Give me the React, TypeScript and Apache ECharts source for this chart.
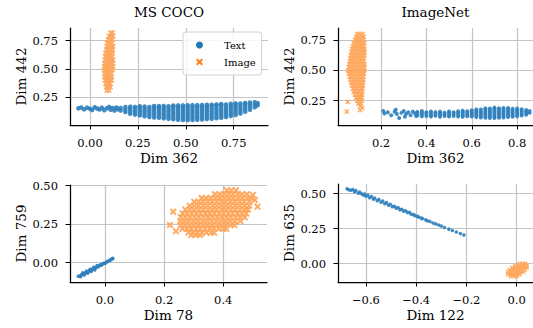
import React, { useEffect, useRef } from 'react';
import * as echarts from 'echarts';

const FONT = 'DejaVu Serif';
const BLUE = '#2f7fbd';
const ORANGE = '#ffa75c';
const BLUE_LEGEND = '#1f77b4';
const ORANGE_LEGEND = '#ff7f0e';
const XPATH = 'path://M0,2 L2,0 L5,3 L8,0 L10,2 L7,5 L10,8 L8,10 L5,7 L2,10 L0,8 L3,5 Z';

const panelTitles = ['MS COCO', 'ImageNet'];
const xNames = ['Dim 362', 'Dim 362', 'Dim 78', 'Dim 122'];
const yNames = ['Dim 442', 'Dim 442', 'Dim 759', 'Dim 635'];
const xTicks = [[0, 0.25, 0.5, 0.75], [0.2, 0.4, 0.6, 0.8], [0, 0.2, 0.4], [-0.6, -0.4, -0.2, 0]];
const yTicks = [[0.25, 0.5, 0.75], [0.25, 0.5, 0.75], [0, 0.25, 0.5], [0, 0.25, 0.5]];
const xDigits = [2, 1, 1, 1];
const yDigits = [2, 2, 2, 2];
const xIntervals = [0.25, 0.2, 0.2, 0.2];
const yIntervals = [0.25, 0.25, 0.25, 0.25];
const xRanges = [[-0.104, 0.929], [0.0103, 0.87], [-0.118, 0.548], [-0.711, 0.065]];
const yRanges = [[0.005, 0.862], [0.05, 0.849], [-0.125, 0.5045], [-0.131, 0.569]];

// MS COCO, text embeddings: sparse left tail
const cocoTextTail = [
  [-0.06, 0.152], [-0.045, 0.16], [-0.03, 0.143], [-0.015, 0.158], [0.0, 0.148], [0.012, 0.138],
  [0.025, 0.162], [0.038, 0.15], [0.05, 0.142], [0.062, 0.158], [0.075, 0.135], [0.088, 0.152],
  [0.1, 0.165], [0.108, 0.14], [0.118, 0.155], [0.128, 0.132], [0.138, 0.16], [0.145, 0.145],
];
// MS COCO, text embeddings: dense band, columns [x, ys]
const cocoTextBand: [number, number[]][] = [
  [0.16, [0.133, 0.155]],
  [0.185, [0.12, 0.142, 0.163]],
  [0.21, [0.104, 0.126, 0.148, 0.167]],
  [0.235, [0.097, 0.119, 0.141, 0.163]],
  [0.26, [0.09, 0.112, 0.134, 0.156, 0.17]],
  [0.285, [0.082, 0.104, 0.126, 0.148, 0.168]],
  [0.31, [0.076, 0.098, 0.12, 0.142, 0.164]],
  [0.335, [0.072, 0.094, 0.116, 0.138, 0.16, 0.172]],
  [0.36, [0.068, 0.09, 0.112, 0.134, 0.156, 0.173]],
  [0.385, [0.064, 0.086, 0.108, 0.13, 0.152, 0.172]],
  [0.41, [0.06, 0.082, 0.104, 0.126, 0.148, 0.17]],
  [0.435, [0.056, 0.078, 0.1, 0.122, 0.144, 0.166, 0.177]],
  [0.46, [0.052, 0.074, 0.096, 0.118, 0.14, 0.162, 0.178]],
  [0.485, [0.05, 0.072, 0.094, 0.116, 0.138, 0.16, 0.178]],
  [0.51, [0.048, 0.07, 0.092, 0.114, 0.136, 0.158, 0.179]],
  [0.535, [0.05, 0.072, 0.094, 0.116, 0.138, 0.16, 0.18]],
  [0.56, [0.052, 0.074, 0.096, 0.118, 0.14, 0.162, 0.18]],
  [0.585, [0.054, 0.076, 0.098, 0.12, 0.142, 0.164, 0.181]],
  [0.61, [0.057, 0.079, 0.101, 0.123, 0.145, 0.167, 0.183]],
  [0.635, [0.06, 0.082, 0.104, 0.126, 0.148, 0.17, 0.185]],
  [0.66, [0.065, 0.087, 0.109, 0.131, 0.153, 0.175, 0.187]],
  [0.685, [0.07, 0.092, 0.114, 0.136, 0.158, 0.18, 0.19]],
  [0.71, [0.076, 0.098, 0.12, 0.142, 0.164, 0.186]],
  [0.735, [0.084, 0.106, 0.128, 0.15, 0.172, 0.193]],
  [0.76, [0.094, 0.116, 0.138, 0.16, 0.182, 0.196]],
  [0.785, [0.107, 0.129, 0.151, 0.173, 0.195]],
  [0.81, [0.122, 0.144, 0.166, 0.188, 0.2]],
  [0.835, [0.14, 0.162, 0.184, 0.203]],
  [0.86, [0.162, 0.184, 0.205]],
  [0.875, [0.18, 0.198]],
];
// MS COCO, image embeddings: rows [y, xs]
const cocoImageRows: [number, number[]][] = [
  [0.82, [0.108, 0.118]],
  [0.79, [0.1, 0.112, 0.12]],
  [0.76, [0.095, 0.106, 0.117]],
  [0.73, [0.09, 0.102, 0.114]],
  [0.7, [0.088, 0.1, 0.112, 0.12]],
  [0.67, [0.085, 0.097, 0.109, 0.119]],
  [0.64, [0.082, 0.094, 0.106, 0.118]],
  [0.61, [0.08, 0.092, 0.104, 0.116]],
  [0.58, [0.078, 0.09, 0.102, 0.114, 0.12]],
  [0.55, [0.076, 0.088, 0.1, 0.112, 0.12]],
  [0.52, [0.075, 0.087, 0.099, 0.111, 0.12]],
  [0.49, [0.074, 0.086, 0.098, 0.11, 0.118]],
  [0.46, [0.076, 0.088, 0.1, 0.112]],
  [0.43, [0.077, 0.089, 0.101, 0.113]],
  [0.4, [0.079, 0.091, 0.103, 0.113]],
  [0.37, [0.082, 0.094, 0.106]],
  [0.34, [0.085, 0.097, 0.107]],
  [0.31, [0.088, 0.1]],
];

// ImageNet, text embeddings
const inetTextTail = [
  [0.21, 0.165], [0.215, 0.145], [0.23, 0.155], [0.245, 0.13], [0.26, 0.16], [0.27, 0.14],
  [0.28, 0.108], [0.29, 0.15], [0.3, 0.165], [0.31, 0.14], [0.32, 0.155], [0.33, 0.13],
  [0.34, 0.16], [0.35, 0.145], [0.355, 0.125], [0.265, 0.175], [0.305, 0.118],
];
const inetTextBand: [number, number[]][] = [
  [0.36, [0.128, 0.145, 0.158]],
  [0.38, [0.122, 0.138, 0.152, 0.165]],
  [0.4, [0.125, 0.14, 0.155]],
  [0.42, [0.12, 0.133, 0.148, 0.162]],
  [0.44, [0.126, 0.141, 0.156]],
  [0.46, [0.118, 0.132, 0.146, 0.16]],
  [0.48, [0.124, 0.138, 0.152]],
  [0.5, [0.12, 0.134, 0.148, 0.162]],
  [0.52, [0.125, 0.14, 0.155]],
  [0.54, [0.12, 0.134, 0.148, 0.163]],
  [0.56, [0.118, 0.13, 0.143, 0.156, 0.168]],
  [0.58, [0.122, 0.136, 0.15, 0.164]],
  [0.6, [0.12, 0.132, 0.145, 0.158, 0.172]],
  [0.62, [0.115, 0.128, 0.141, 0.154, 0.167, 0.178]],
  [0.64, [0.112, 0.125, 0.138, 0.151, 0.164, 0.177]],
  [0.66, [0.11, 0.123, 0.136, 0.149, 0.162, 0.175, 0.187]],
  [0.68, [0.108, 0.121, 0.134, 0.147, 0.16, 0.173, 0.186]],
  [0.7, [0.107, 0.12, 0.133, 0.146, 0.159, 0.172, 0.185, 0.193]],
  [0.72, [0.11, 0.123, 0.136, 0.149, 0.162, 0.175, 0.188]],
  [0.74, [0.112, 0.125, 0.138, 0.151, 0.164, 0.177, 0.19]],
  [0.76, [0.115, 0.128, 0.141, 0.154, 0.167, 0.18, 0.19]],
  [0.78, [0.118, 0.131, 0.144, 0.157, 0.17, 0.183]],
  [0.8, [0.122, 0.135, 0.148, 0.161, 0.174, 0.186]],
  [0.82, [0.128, 0.141, 0.154, 0.167, 0.18]],
  [0.84, [0.135, 0.148, 0.161, 0.174]],
  [0.855, [0.15, 0.165]],
];
// ImageNet, image embeddings
const inetImageRows: [number, number[]][] = [
  [0.8, [0.095, 0.107, 0.119]],
  [0.775, [0.09, 0.102, 0.114, 0.124]],
  [0.75, [0.085, 0.097, 0.109, 0.121]],
  [0.725, [0.08, 0.092, 0.104, 0.116, 0.126]],
  [0.7, [0.076, 0.088, 0.1, 0.112, 0.124]],
  [0.675, [0.072, 0.084, 0.096, 0.108, 0.12, 0.127]],
  [0.65, [0.07, 0.082, 0.094, 0.106, 0.118, 0.127]],
  [0.625, [0.067, 0.079, 0.091, 0.103, 0.115, 0.126]],
  [0.6, [0.065, 0.077, 0.089, 0.101, 0.113, 0.125]],
  [0.575, [0.063, 0.075, 0.087, 0.099, 0.111, 0.123]],
  [0.55, [0.06, 0.072, 0.084, 0.096, 0.108, 0.12, 0.127]],
  [0.525, [0.058, 0.07, 0.082, 0.094, 0.106, 0.118, 0.127]],
  [0.5, [0.055, 0.067, 0.079, 0.091, 0.103, 0.115, 0.126]],
  [0.475, [0.058, 0.07, 0.082, 0.094, 0.106, 0.118, 0.125]],
  [0.45, [0.062, 0.074, 0.086, 0.098, 0.11, 0.122]],
  [0.425, [0.065, 0.077, 0.089, 0.101, 0.113, 0.122]],
  [0.4, [0.068, 0.08, 0.092, 0.104, 0.116, 0.121]],
  [0.375, [0.072, 0.084, 0.096, 0.108, 0.119]],
  [0.35, [0.076, 0.088, 0.1, 0.112, 0.118]],
  [0.325, [0.08, 0.092, 0.104, 0.116]],
  [0.3, [0.085, 0.097, 0.109, 0.117]],
  [0.275, [0.09, 0.102, 0.114]],
  [0.25, [0.095, 0.107, 0.115]],
  [0.225, [0.1, 0.11]],
];
const inetImageOutliers = [[0.053, 0.24], [0.049, 0.16], [0.107, 0.173], [0.117, 0.19], [0.11, 0.205]];

// Dim 78 vs Dim 759
const d78Text = [
  [-0.09, -0.088], [-0.085, -0.086], [-0.08, -0.08], [-0.077, -0.074], [-0.072, -0.075],
  [-0.068, -0.069], [-0.064, -0.062], [-0.06, -0.063], [-0.056, -0.057], [-0.052, -0.05],
  [-0.048, -0.051], [-0.044, -0.045], [-0.04, -0.038], [-0.036, -0.04], [-0.032, -0.033],
  [-0.028, -0.026], [-0.024, -0.028], [-0.02, -0.021], [-0.016, -0.014], [-0.012, -0.016],
  [-0.008, -0.009], [-0.004, -0.003], [0.0, -0.005], [0.004, 0.002], [0.008, 0.008],
  [0.012, 0.01], [0.016, 0.015], [0.02, 0.02], [0.024, 0.025], [0.027, 0.028],
  [-0.082, -0.09], [-0.07, -0.08], [-0.058, -0.068], [-0.046, -0.056], [-0.034, -0.046],
  [-0.075, -0.066], [-0.062, -0.054], [-0.05, -0.042], [-0.038, -0.03], [-0.026, -0.018],
];
const d78ImageRows: [number, number[]][] = [
  [0.47, [0.412, 0.427, 0.443]],
  [0.445, [0.372, 0.388, 0.403, 0.418, 0.433, 0.449, 0.464, 0.48]],
  [0.42, [0.327, 0.342, 0.357, 0.373, 0.388, 0.404, 0.419, 0.434, 0.45, 0.465, 0.481, 0.494]],
  [0.395, [0.302, 0.317, 0.332, 0.348, 0.363, 0.379, 0.394, 0.409, 0.425, 0.44, 0.456, 0.471, 0.488]],
  [0.37, [0.287, 0.302, 0.317, 0.333, 0.348, 0.364, 0.379, 0.394, 0.41, 0.425, 0.441, 0.456, 0.472, 0.488]],
  [0.345, [0.272, 0.287, 0.302, 0.318, 0.333, 0.349, 0.364, 0.379, 0.395, 0.41, 0.426, 0.441, 0.457, 0.472, 0.484]],
  [0.32, [0.263, 0.278, 0.293, 0.309, 0.324, 0.34, 0.355, 0.37, 0.386, 0.401, 0.417, 0.432, 0.448, 0.463, 0.478]],
  [0.295, [0.257, 0.272, 0.287, 0.303, 0.318, 0.334, 0.349, 0.364, 0.38, 0.395, 0.411, 0.426, 0.442, 0.457, 0.473]],
  [0.27, [0.255, 0.27, 0.285, 0.301, 0.316, 0.332, 0.347, 0.362, 0.378, 0.393, 0.409, 0.424, 0.44, 0.458]],
  [0.245, [0.256, 0.271, 0.286, 0.302, 0.317, 0.333, 0.348, 0.363, 0.379, 0.394, 0.41, 0.425, 0.438]],
  [0.22, [0.262, 0.277, 0.292, 0.308, 0.323, 0.339, 0.354, 0.369, 0.385, 0.4, 0.41]],
  [0.195, [0.282, 0.297, 0.312, 0.328, 0.343, 0.358, 0.369]],
  [0.18, [0.292, 0.307, 0.322]],
];
const d78ImageOutliers = [[0.231, 0.331], [0.22, 0.245], [0.516, 0.364], [0.507, 0.407], [0.24, 0.205], [0.5, 0.44]];

// Dim 122 vs Dim 635
const d122Text = [
  [-0.675, 0.535], [-0.668, 0.528], [-0.66, 0.524], [-0.652, 0.53], [-0.645, 0.514], [-0.64, 0.522],
  [-0.63, 0.503], [-0.625, 0.512], [-0.618, 0.5], [-0.61, 0.49], [-0.605, 0.498], [-0.6, 0.482],
  [-0.592, 0.488], [-0.585, 0.471], [-0.578, 0.48], [-0.57, 0.46], [-0.565, 0.468], [-0.555, 0.45],
  [-0.548, 0.458], [-0.54, 0.439], [-0.533, 0.447], [-0.525, 0.428], [-0.518, 0.436], [-0.51, 0.418],
  [-0.503, 0.424], [-0.495, 0.407], [-0.487, 0.41], [-0.48, 0.397], [-0.472, 0.4], [-0.465, 0.386],
  [-0.457, 0.388], [-0.45, 0.375], [-0.442, 0.378], [-0.435, 0.365], [-0.427, 0.366], [-0.42, 0.354],
  [-0.41, 0.35], [-0.405, 0.343], [-0.395, 0.338], [-0.39, 0.333], [-0.38, 0.325], [-0.375, 0.322],
  [-0.362, 0.313], [-0.355, 0.306], [-0.345, 0.301], [-0.333, 0.29], [-0.322, 0.284], [-0.31, 0.276],
  [-0.3, 0.269], [-0.287, 0.258], [-0.27, 0.247], [-0.256, 0.237], [-0.24, 0.226], [-0.224, 0.215],
  [-0.21, 0.205],
];
const d122ImageRows: [number, number[]][] = [
  [0.0, [0.012, 0.024, 0.034]],
  [-0.015, [-0.006, 0.006, 0.018, 0.03, 0.04]],
  [-0.03, [-0.018, -0.006, 0.006, 0.018, 0.03, 0.04]],
  [-0.045, [-0.028, -0.016, -0.004, 0.008, 0.02, 0.032]],
  [-0.06, [-0.034, -0.022, -0.01, 0.002, 0.014, 0.026]],
  [-0.075, [-0.034, -0.022, -0.01, 0.002, 0.012]],
  [-0.09, [-0.024, -0.012, 0.0]],
];

const fromColumns = (cols: [number, number[]][]) =>
  cols.flatMap(([x, ys]) => ys.map((y) => [x, y]));
const fromRows = (rows: [number, number[]][]) =>
  rows.flatMap(([y, xs]) => xs.map((x) => [x, y]));

const textData = [
  [...cocoTextTail, ...fromColumns(cocoTextBand)],
  [...inetTextTail, ...fromColumns(inetTextBand)],
  d78Text,
  d122Text,
];
const imageData = [
  fromRows(cocoImageRows),
  [...fromRows(inetImageRows), ...inetImageOutliers],
  [...fromRows(d78ImageRows), ...d78ImageOutliers],
  fromRows(d122ImageRows),
];
const textSizes = [4.6, 4, 3.6, 3.6];
const imageSizes = [5.5, 5.2, 7, 5];

const grids = [
  { left: 70, top: 28, width: 198, height: 97 },
  { left: 338, top: 28, width: 195, height: 97 },
  { left: 70, top: 185, width: 197, height: 97 },
  { left: 338, top: 184, width: 195, height: 98 },
];

const fmt = (d: number) => (v: number) => {
  const s = Math.abs(v).toFixed(d);
  return v < -1e-9 ? '\u2212' + s : s;
};

export default function App() {
  const ref = useRef<HTMLDivElement>(null);
  useEffect(() => {
    if (!ref.current) return;
    const chart = echarts.init(ref.current, undefined, { renderer: 'svg' });
    const axisCommon = {
      type: 'value' as const,
      axisLine: { show: true, onZero: false, lineStyle: { color: '#000', width: 1.25 } },
      axisTick: { show: true, length: 4.5, lineStyle: { color: '#000', width: 1 } },
      splitLine: { show: true, lineStyle: { color: '#c4c4c4', width: 1.2 } },
      nameLocation: 'middle' as const,
      nameTextStyle: { fontFamily: FONT, fontSize: 13.5, color: '#000' },
    };
    const xAxis = grids.map((_, i) => ({
      ...axisCommon,
      gridIndex: i,
      min: xRanges[i][0],
      max: xRanges[i][1],
      interval: xIntervals[i],
      name: xNames[i],
      nameGap: 26,
      axisTick: { ...axisCommon.axisTick, customValues: xTicks[i] },
      axisLabel: {
        customValues: xTicks[i],
        margin: 12,
        fontFamily: FONT,
        fontSize: 11.5,
        color: '#000',
        formatter: fmt(xDigits[i]),
      },
    }));
    const yAxis = grids.map((_, i) => ({
      ...axisCommon,
      gridIndex: i,
      min: yRanges[i][0],
      max: yRanges[i][1],
      interval: yIntervals[i],
      name: yNames[i],
      nameGap: 42,
      axisTick: { ...axisCommon.axisTick, customValues: yTicks[i] },
      axisLabel: {
        customValues: yTicks[i],
        margin: 12,
        fontFamily: FONT,
        fontSize: 11.5,
        color: '#000',
        formatter: fmt(yDigits[i]),
      },
    }));
    const series: any[] = [];
    grids.forEach((_, i) => {
      series.push({
        type: 'scatter',
        name: 'Text',
        xAxisIndex: i,
        yAxisIndex: i,
        data: textData[i],
        symbol: 'circle',
        symbolSize: textSizes[i],
        itemStyle: { color: BLUE, opacity: 0.9 },
        silent: true,
      });
      series.push({
        type: 'scatter',
        name: 'Image',
        xAxisIndex: i,
        yAxisIndex: i,
        data: imageData[i],
        symbol: XPATH,
        symbolSize: imageSizes[i],
        itemStyle: { color: ORANGE, opacity: 0.95 },
        silent: true,
      });
    });
    chart.setOption({
      animation: false,
      backgroundColor: '#fff',
      title: [
        { text: panelTitles[0], left: 169, top: 5, textAlign: 'center', padding: 0,
          textStyle: { fontFamily: FONT, fontSize: 13.5, fontWeight: 'normal', color: '#000' } },
        { text: panelTitles[1], left: 435.5, top: 5, textAlign: 'center', padding: 0,
          textStyle: { fontFamily: FONT, fontSize: 13.5, fontWeight: 'normal', color: '#000' } },
      ],
      legend: {
        left: 183,
        top: 32,
        orient: 'vertical',
        padding: [6, 6, 6, 13],
        itemGap: 3,
        itemWidth: 7,
        itemHeight: 7,
        backgroundColor: 'rgba(255,255,255,0.85)',
        borderColor: '#d0d0d0',
        borderWidth: 1,
        borderRadius: 3,
        selectedMode: false,
        textStyle: { fontFamily: FONT, fontSize: 10, color: '#000', lineHeight: 14, padding: [0, 0, 0, 16] },
        data: [
          { name: 'Text', icon: 'circle', itemStyle: { color: BLUE_LEGEND, opacity: 1 } },
          { name: 'Image', icon: XPATH, itemStyle: { color: ORANGE_LEGEND, opacity: 1 } },
        ],
      },
      grid: grids,
      xAxis,
      yAxis,
      series,
    });
    return () => chart.dispose();
  }, []);
  return (
    <div
      ref={ref}
      style={{ position: 'absolute', left: 0, top: 0, width: 533, height: 328 }}
    />
  );
}
